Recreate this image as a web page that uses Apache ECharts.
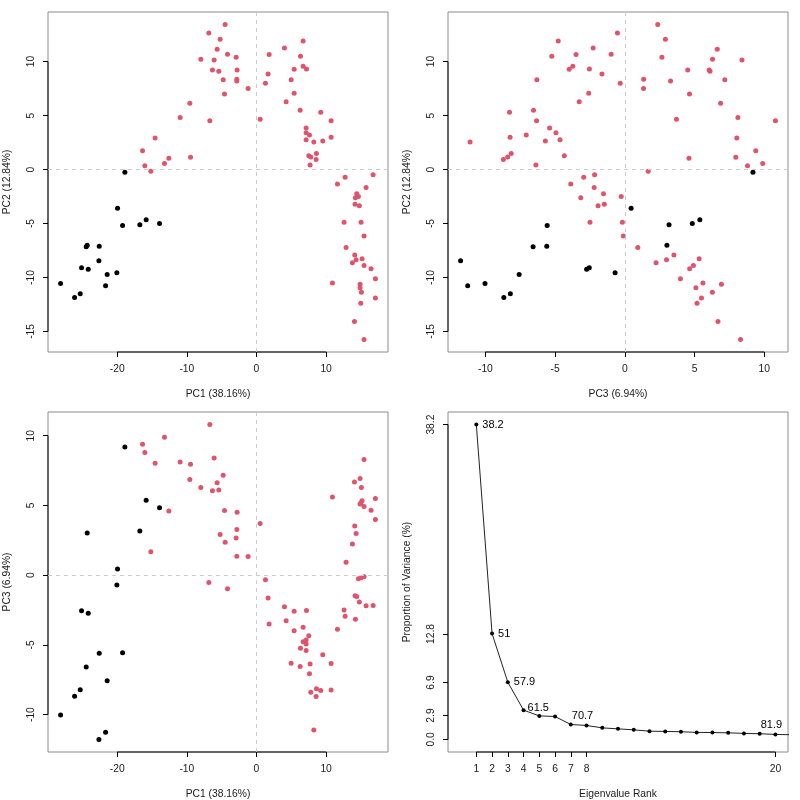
<!DOCTYPE html>
<html><head><meta charset="utf-8">
<script src="https://cdn.jsdelivr.net/npm/echarts@6/dist/echarts.min.js"></script>
<style>html,body{margin:0;padding:0;background:#fff}#c{width:800px;height:800px}</style>
</head><body><div id="c"></div>
<script>
// ---- data: group 1 (black) ----
const blackPC1 = [-18.90,-19.95,-19.23,-16.75,-15.84,-13.92,-24.31,-24.45,-22.58,-22.63,-25.12,-24.16,-21.44,-20.05,-21.67,-28.13,-25.31,-26.12];
const blackPC2 = [-0.25,-3.58,-5.19,-5.12,-4.66,-5.00,-7.01,-7.16,-7.10,-8.46,-9.10,-9.23,-9.72,-9.57,-10.77,-10.56,-11.51,-11.85];
const blackPC3 = [9.19,0.45,-5.57,3.17,5.38,4.84,3.02,-6.58,-5.60,-11.78,-2.55,-2.74,-7.58,-0.70,-11.27,-10.03,-8.21,-8.68];
// ---- data: group 2 (red) ----
const redPC1 = [-4.50,-6.84,-5.22,-5.65,-4.16,-2.92,-7.99,-6.08,-6.32,-5.41,
  -2.78,-4.78,-2.82,-2.82,-4.59,-1.20,-9.57,-10.96,-6.70,-14.55,
  -16.36,-9.47,-12.58,-13.21,-16.03,-15.17,4.02,6.70,1.82,6.32,
  6.70,7.18,5.41,1.67,4.98,1.29,5.41,4.26,6.27,0.53,
  9.23,10.72,7.13,7.13,7.61,7.13,10.72,8.23,9.52,7.51,
  7.80,8.61,8.56,7.70,16.75,12.73,11.63,15.74,14.40,14.64,
  14.21,14.16,14.78,12.58,15.02,15.45,12.87,14.11,14.31,15.17,
  13.78,15.45,16.46,17.08,10.91,14.88,14.88,15.07,17.08,14.98,
  14.07,15.45];
const redPC2 = [13.43,12.65,12.07,11.14,10.68,10.40,10.22,10.15,9.23,9.10,
  9.23,8.33,8.36,8.21,7.01,7.50,6.14,4.81,4.51,2.93,
  1.73,1.14,1.05,0.56,0.34,-0.15,11.27,11.91,10.65,10.49,
  9.57,9.32,9.29,8.86,8.33,7.99,7.07,6.27,5.49,4.66,
  5.31,4.51,3.86,3.40,3.21,2.75,2.99,2.56,2.65,1.27,
  1.17,1.48,0.93,0.43,-0.49,-0.71,-1.33,-1.67,-2.25,-2.50,
  -2.62,-3.21,-3.36,-4.88,-4.88,-6.17,-7.22,-7.93,-8.36,-8.27,
  -8.64,-8.89,-9.20,-10.12,-10.52,-10.62,-10.96,-11.36,-11.91,-12.38,
  -14.07,-15.74];
const redPC3 = [2.36,-0.53,2.91,6.63,-0.98,2.66,6.29,8.40,6.05,6.11,
  4.51,7.17,1.35,3.28,4.64,1.34,6.87,8.11,10.80,8.03,
  9.39,7.96,4.60,9.89,8.80,1.68,-2.27,-4.78,-3.50,-5.24,
  -3.73,-2.54,-3.99,-1.64,-6.31,-0.33,-2.59,-3.27,-6.55,3.70,
  -8.27,-6.33,-5.40,-4.94,-7.07,-4.65,-8.23,-11.10,-5.70,-4.34,
  -8.40,-8.15,-8.71,-6.38,-2.17,-2.95,-3.88,-2.20,-1.53,-0.26,
  -3.16,-1.47,-1.92,-2.50,-0.18,-0.11,0.93,3.52,2.99,5.33,
  2.24,4.92,4.65,3.99,5.60,6.93,5.10,6.28,5.50,5.18,
  6.68,8.30];
// ---- ticks / titles ----
const pc1Ticks = [-20,-10,0,10];
const pc2Ticks = [-15,-10,-5,0,5,10];
const pc3Ticks = [-10,-5,0,5,10];
const pc1Title = 'PC1 (38.16%)';
const pc2Title = 'PC2 (12.84%)';
const pc3Title = 'PC3 (6.94%)';
// ---- scree ----
const eigRank = [1,2,3,4,5,6,7,8,9,10,11,12,13,14,15,16,17,18,19,20,21];
const varPct = [38.2,12.84,6.94,3.55,2.85,2.78,1.81,1.69,1.40,1.28,1.16,1.00,0.97,0.93,0.85,0.83,0.80,0.73,0.69,0.60,0.57];
const rankTicks = [1,2,3,4,5,6,7,8,20];
const varTicks = [0,2.9,6.9,12.8,38.2];
const varTickLabels = ['0.0','2.9','6.9','12.8','38.2'];
const cumLabelRanks = [1,2,3,4,8,20];
const cumLabels = ['38.2','51','57.9','61.5','70.7','81.9'];
const screeXRange = [0,20];
const screeYRange = [0,38.2];

const FONT = '"Liberation Sans", Arial, Helvetica, sans-serif';
const FS = 10.3;
const TXT = '#1a1a1a';
const RED = '#DF536B';
const BLACK = '#000000';

function rExt(arr){ const lo=Math.min(...arr), hi=Math.max(...arr), d=hi-lo; return [lo-0.04*d, hi+0.04*d]; }
const ePC1 = rExt(blackPC1.concat(redPC1));
const ePC2 = rExt(blackPC2.concat(redPC2));
const ePC3 = rExt(blackPC3.concat(redPC3));
const eRank = rExt(screeXRange);
const eVar = rExt(screeYRange);

function xAxis(gi, ext, ticks, name, fmt){
  return {type:'value', gridIndex:gi, min:ext[0], max:ext[1], name, nameLocation:'middle', nameGap:37,
    nameTextStyle:{fontFamily:FONT,fontSize:FS,color:TXT},
    axisLine:{show:false, onZero:false}, splitLine:{show:false},
    axisTick:{show:true, inside:false, customValues:ticks, length:5, lineStyle:{color:'#000',width:1}},
    axisLabel:{show:true, customValues:ticks, margin:12, hideOverlap:false, fontFamily:FONT, fontSize:FS, color:TXT,
      formatter: fmt || (v=>String(v))}};
}
function yAxis(gi, ext, ticks, name, fmt){
  return {type:'value', gridIndex:gi, min:ext[0], max:ext[1], name, nameLocation:'middle', nameGap:36, nameRotate:90,
    nameTextStyle:{fontFamily:FONT,fontSize:FS,color:TXT},
    axisLine:{show:false, onZero:false}, splitLine:{show:false},
    axisTick:{show:true, inside:false, customValues:ticks, length:5, lineStyle:{color:'#000',width:1}},
    axisLabel:{show:true, customValues:ticks, rotate:90, margin:12, hideOverlap:false, fontFamily:FONT, fontSize:FS, color:TXT,
      formatter: fmt || (v=>String(v))}};
}
function grid(left, top){ return {left, top, width:340, height:340, show:true, borderColor:'#8c8c8c', borderWidth:1, backgroundColor:'transparent', outerBoundsMode:'none', containLabel:false}; }

function zeroLines(i){
  return {type:'scatter', xAxisIndex:i, yAxisIndex:i, data:[], z:1, silent:true,
    markLine:{silent:true, symbol:'none', animation:false, label:{show:false},
      lineStyle:{color:'#cccccc', width:1, type:[4,4], opacity:1}, data:[{xAxis:0},{yAxis:0}]}};
}
function axisSegs(i, xe, ye, xt, yt){
  const st = {type:'line', xAxisIndex:i, yAxisIndex:i, symbol:'none', clip:false, silent:true, z:3,
    lineStyle:{color:'#000', width:1, opacity:1}};
  return [Object.assign({}, st, {data:[[xt[0], ye[0]], [xt[xt.length-1], ye[0]]]}),
          Object.assign({}, st, {data:[[xe[0], yt[0]], [xe[0], yt[yt.length-1]]]})];
}
function pts(i, xs, ys, color){
  return {type:'scatter', xAxisIndex:i, yAxisIndex:i, symbol:'circle', symbolSize:5, z:4,
    itemStyle:{color, borderWidth:0, opacity:1}, data: xs.map((v,k)=>[v, ys[k]])};
}

const series = [];
// panel 1: PC1 vs PC2
series.push(zeroLines(0), ...axisSegs(0, ePC1, ePC2, pc1Ticks, pc2Ticks), pts(0, blackPC1, blackPC2, BLACK), pts(0, redPC1, redPC2, RED));
// panel 2: PC3 vs PC2
series.push(zeroLines(1), ...axisSegs(1, ePC3, ePC2, pc3Ticks, pc2Ticks), pts(1, blackPC3, blackPC2, BLACK), pts(1, redPC3, redPC2, RED));
// panel 3: PC1 vs PC3
series.push(zeroLines(2), ...axisSegs(2, ePC1, ePC3, pc1Ticks, pc3Ticks), pts(2, blackPC1, blackPC3, BLACK), pts(2, redPC1, redPC3, RED));
// panel 4: scree
series.push(...axisSegs(3, eRank, eVar, rankTicks, varTicks));
series.push({type:'line', xAxisIndex:3, yAxisIndex:3, clip:true, symbol:'circle', symbolSize:4, showAllSymbol:true, z:4,
  itemStyle:{color:'#000', opacity:1}, lineStyle:{color:'#222', width:1},
  data: eigRank.map((r,k)=>[r, varPct[k]])});
const labelPos = {1:'right',2:'right',3:'right',4:'right',8:'top',20:'top'};
series.push({type:'scatter', xAxisIndex:3, yAxisIndex:3, symbolSize:0, z:5, silent:true,
  itemStyle:{opacity:1},
  data: cumLabelRanks.map((r,k)=>({value:[r, varPct[r-1]], name:cumLabels[k],
    label:{position:labelPos[r], distance: labelPos[r]==='right'?6:4, offset: r===4?[-2,-2]:(labelPos[r]==='top'?[-4,0]:[0,0])}})),
  label:{show:true, formatter:p=>p.name, fontFamily:FONT, fontSize:11, color:'#000', opacity:1}});

const option = {
  animation:false,
  backgroundColor:'#ffffff',
  textStyle:{fontFamily:FONT},
  grid:[grid(48,12), grid(448,12), grid(48,412), grid(448,412)],
  xAxis:[xAxis(0,ePC1,pc1Ticks,pc1Title), xAxis(1,ePC3,pc3Ticks,pc3Title), xAxis(2,ePC1,pc1Ticks,pc1Title),
         xAxis(3,eRank,rankTicks,'Eigenvalue Rank')],
  yAxis:[yAxis(0,ePC2,pc2Ticks,pc2Title), yAxis(1,ePC2,pc2Ticks,pc2Title), yAxis(2,ePC3,pc3Ticks,pc3Title),
         yAxis(3,eVar,varTicks,'Proportion of Variance (%)', v=>{ let k=0,b=1e9; varTicks.forEach((t,j)=>{ if(Math.abs(t-v)<b){b=Math.abs(t-v);k=j;} }); return varTickLabels[k]; })],
  series
};
const chart = echarts.init(document.getElementById('c'), null, {renderer:'canvas'});
chart.setOption(option);
</script>
</body></html>
